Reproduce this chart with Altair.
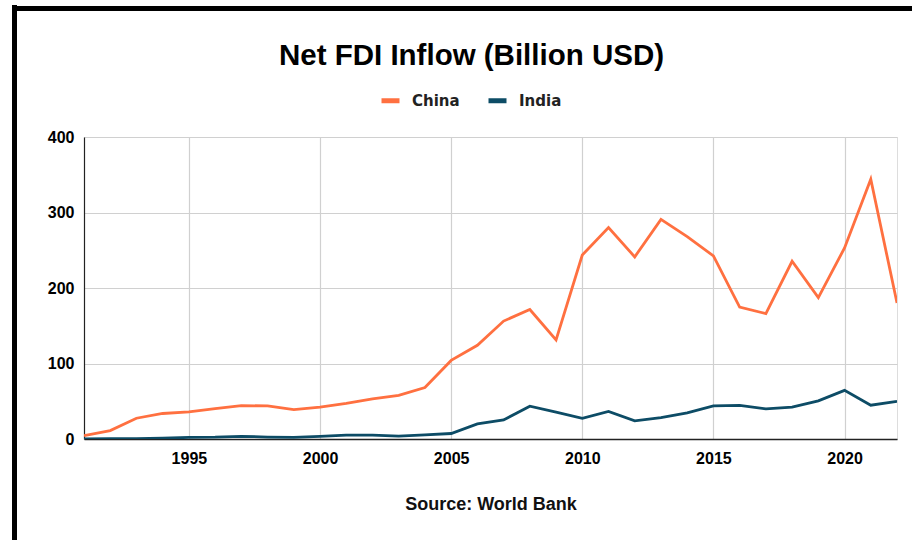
import altair as alt
import pandas as pd

years = list(range(1991, 2023))
china = [4.4, 11.2, 27.5, 33.8, 35.8, 40.2, 44.2, 43.8, 38.8, 42.1, 47.1, 53.1,
         57.9, 68.1, 104.1, 124.1, 156.2, 171.5, 131.1, 243.7, 280.1, 241.2, 290.9,
         268.1, 242.5, 174.7, 166.1, 235.4, 187.2, 253.1, 344.1, 180.2]
india = [0.1, 0.3, 0.6, 1.0, 2.1, 2.4, 3.6, 2.6, 2.2, 3.6, 5.1, 5.2, 3.7, 5.4,
         7.3, 20.0, 25.2, 43.4, 35.6, 27.4, 36.5, 24.0, 28.2, 34.6, 44.0, 44.5,
         40.0, 42.1, 50.6, 64.4, 44.7, 49.9]
series = ["China", "India"]
colors = ["#ff7040", "#0d4c66"]
x_ticks = [1995, 2000, 2005, 2010, 2015, 2020]
y_ticks = [0, 100, 200, 300, 400]

rows = []
for i, y in enumerate(years):
    rows.append({"year": y, "country": "China", "value": china[i]})
    rows.append({"year": y, "country": "India", "value": india[i]})
df = pd.DataFrame(rows)

FONT = "Liberation Sans"
W, H = 813, 302

lines = alt.Chart(df).mark_line(strokeWidth=2.8, clip=True).encode(
    x=alt.X("year:Q",
            scale=alt.Scale(domain=[1991, 2022], nice=False, zero=False),
            axis=alt.Axis(values=x_ticks, format="d", title="Source: World Bank",
                          titleFont=FONT, titleFontSize=18, titleFontWeight="bold",
                          titleColor="#111", titlePadding=29,
                          labelFont=FONT, labelFontSize=16, labelFontWeight="bold",
                          labelColor="#000", labelPadding=11, ticks=False,
                          domainColor="#222", domainWidth=1.5,
                          gridColor="#d0d0d0", gridWidth=1.2)),
    y=alt.Y("value:Q",
            scale=alt.Scale(domain=[0, 400], nice=False),
            axis=alt.Axis(values=y_ticks, title=None,
                          labelFont=FONT, labelFontSize=16, labelFontWeight="bold",
                          labelColor="#000", labelPadding=10, ticks=False,
                          domainColor="#222", domainWidth=1.2,
                          gridColor="#d0d0d0", gridWidth=1.2)),
    color=alt.Color("country:N",
                    scale=alt.Scale(domain=series, range=colors),
                    legend=alt.Legend(title=None, orient="none", direction="horizontal",
                                      legendX=295, legendY=-48,
                                      symbolType="stroke",
                                      symbolSize=324, symbolStrokeWidth=5,
                                      labelFont="DejaVu Sans", labelFontSize=15,
                                      labelFontWeight="bold", labelColor="#222",
                                      labelOffset=10, columnPadding=18)),
)

frame_left = alt.Chart(df).mark_rule(color="#000", strokeWidth=5).encode(
    x=alt.value(-69.5), y=alt.value(-131.5), y2=alt.value(420))
frame_top = alt.Chart(df).mark_rule(color="#000", strokeWidth=5).encode(
    x=alt.value(-72), x2=alt.value(900), y=alt.value(-128.5))

chart = alt.layer(lines, frame_left, frame_top).properties(
    width=W, height=H,
    title=alt.TitleParams("Net FDI Inflow (Billion USD)", font=FONT, fontSize=29.5,
                          fontWeight="bold", color="#000", anchor="middle",
                          frame="group", dx=-19, offset=-68),
    padding={"left": 84, "top": 137, "right": 15, "bottom": 101},
    autosize=alt.AutoSizeParams(type="none"),
).configure_view(stroke=None).configure(background="white")

chart.save("out.html", embed_options={"renderer": "svg", "actions": False})
